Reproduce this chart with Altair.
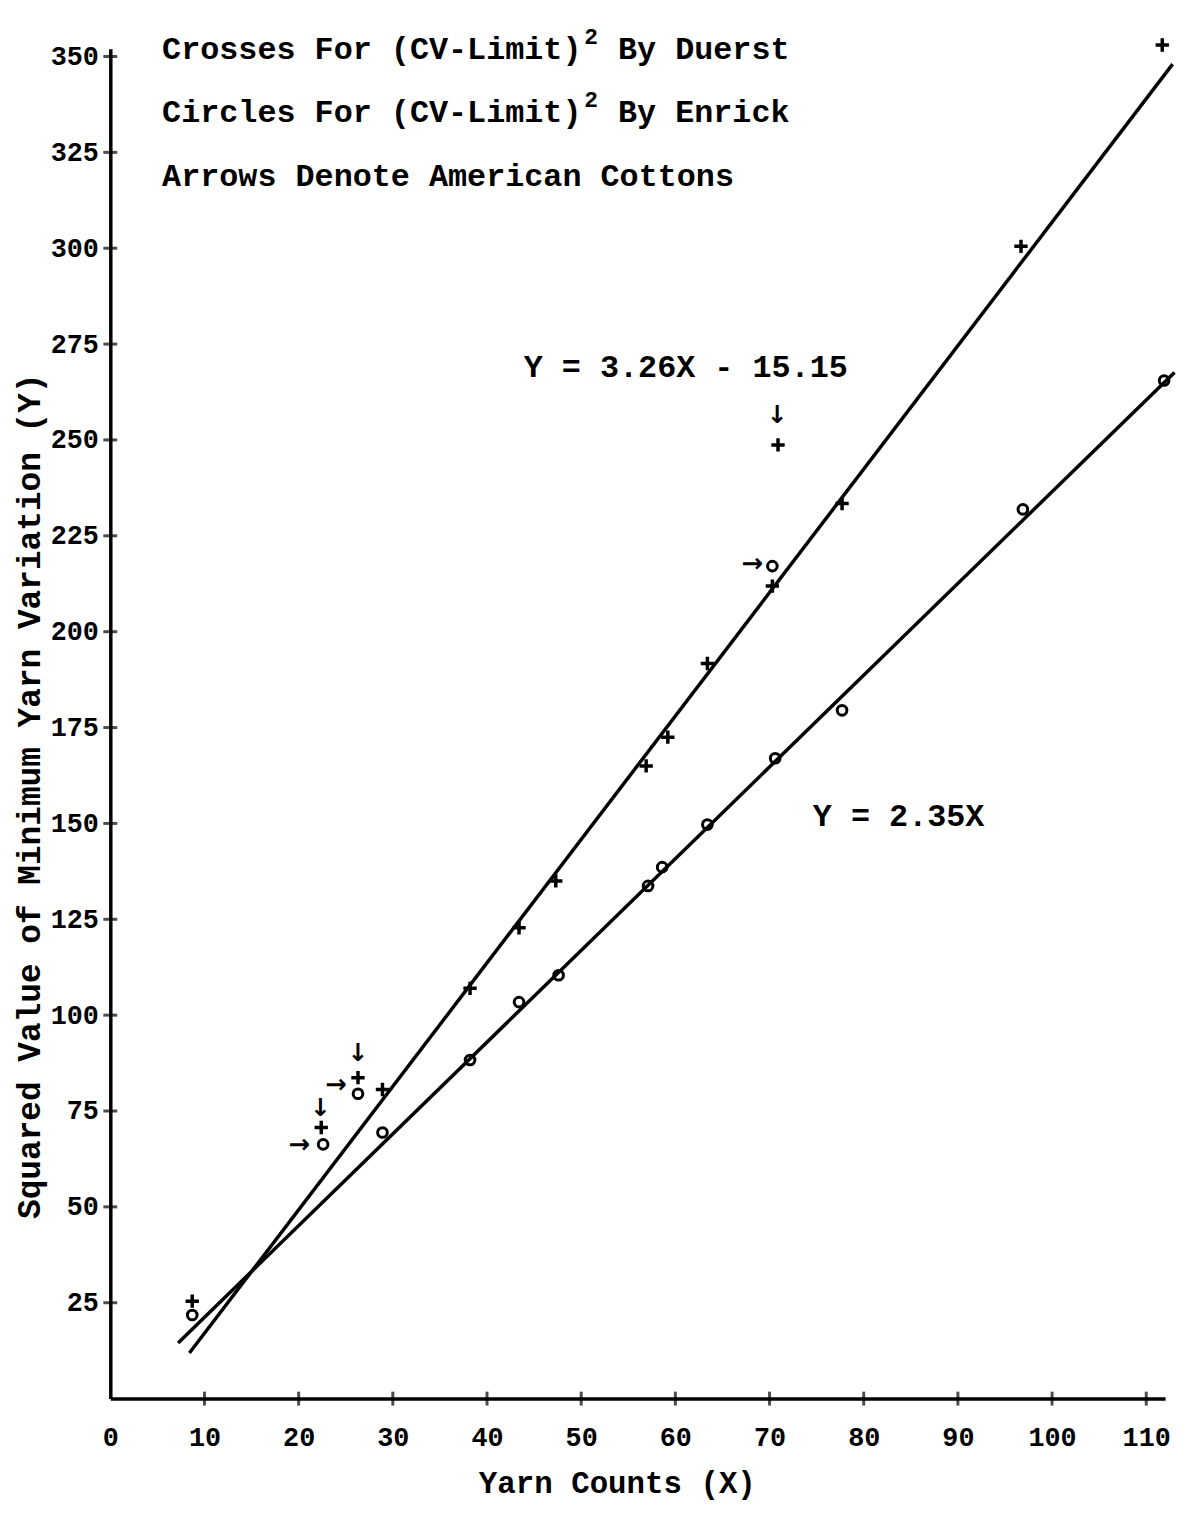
import altair as alt
import pandas as pd

# ---- data ----
cross_x = [8.7, 22.4, 26.3, 28.9, 38.2, 43.4, 47.3, 56.9, 59.2, 63.4, 70.3, 70.9, 77.7, 96.7, 111.7]
cross_y = [25.4, 70.7, 83.7, 80.6, 107.0, 122.8, 135.0, 165.0, 172.5, 191.7, 211.9, 248.7, 233.4, 300.5, 353.0]

circle_x = [8.7, 22.6, 26.3, 28.9, 38.2, 43.4, 47.6, 57.1, 58.6, 63.4, 70.3, 70.6, 77.7, 96.9, 111.9]
circle_y = [21.8, 66.3, 79.5, 69.4, 88.3, 103.4, 110.4, 133.7, 138.6, 149.7, 217.1, 167.0, 179.5, 231.9, 265.5]

# fitted lines (end points)
duerst_line_x = [8.4, 112.8]
duerst_line_y = [11.9, 348.0]
enrick_line_x = [7.2, 113.0]
enrick_line_y = [14.5, 267.6]

# arrows marking American cottons
arrow_down_x = [22.3, 26.3, 70.8]
arrow_down_y = [75.8, 90.0, 256.5]
arrow_right_x = [20.1, 24.0, 68.2]
arrow_right_y = [66.1, 81.8, 217.6]

x_labels = [0, 10, 20, 30, 40, 50, 60, 70, 80, 90, 100, 110]
x_ticks = [10, 20, 30, 40, 50, 60, 70, 80, 90, 100, 110]
y_ticks = [25, 50, 75, 100, 125, 150, 175, 200, 225, 250, 275, 300, 325, 350]

legend_head = ["Crosses For (CV-Limit)", "Circles For (CV-Limit)",
               "Arrows Denote American Cottons"]
legend_tail = ["By Duerst", "By Enrick"]
legend_x = [5.5, 5.5, 5.5]
legend_y = [352.0, 335.5, 318.7]
sup_lines = ["2", "2"]

eq_text = ["Y = 3.26X - 15.15", "Y = 2.35X"]
eq_x = [43.9, 74.6]
eq_y = [268.9, 151.8]

FONT = "Liberation Mono"

crosses = pd.DataFrame({"x": cross_x, "y": cross_y})
circles = pd.DataFrame({"x": circle_x, "y": circle_y})
lines = pd.DataFrame({
    "x": duerst_line_x + enrick_line_x,
    "y": duerst_line_y + enrick_line_y,
    "line": ["Duerst"] * 2 + ["Enrick"] * 2,
})
adown = pd.DataFrame({"x": arrow_down_x, "y": arrow_down_y, "t": ["↓"] * 3})
aright = pd.DataFrame({"x": arrow_right_x, "y": arrow_right_y, "t": ["→"] * 3})
xt = pd.DataFrame({"v": x_ticks})
yt = pd.DataFrame({"v": y_ticks})
leg = pd.DataFrame({"x": legend_x, "y": legend_y, "t": legend_head})
tail = pd.DataFrame({"x": legend_x[:2], "y": legend_y[:2], "t": legend_tail})
sup = pd.DataFrame({"x": legend_x[:2], "y": legend_y[:2], "t": sup_lines})
eq = pd.DataFrame({"x": eq_x, "y": eq_y, "t": eq_text})

xscale = alt.Scale(domain=[0, 112], nice=False, zero=False)
yscale = alt.Scale(domain=[0, 352], nice=False, zero=False)

axis_common = dict(
    ticks=False, tickSize=0, grid=False,
    domainColor="black", domainWidth=3.5,
    labelFont=FONT, labelFontSize=27, labelFontWeight="bold", labelColor="black",
    titleFont=FONT, titleFontWeight="bold", titleColor="black",
    titleAlign="center", titleBaseline="middle",
    labelOverlap=False, labelFlush=False,
)

X = alt.X("x:Q", scale=xscale,
          axis=alt.Axis(values=x_labels, title="Yarn Counts (X)", labelPadding=26,
                        titleFontSize=31, titleX=510, titleY=86, **axis_common))
Y = alt.Y("y:Q", scale=yscale,
          axis=alt.Axis(values=y_ticks, title="Squared Value of Minimum Yarn Variation (Y)",
                        labelPadding=12, titleFontSize=33, titleX=-81, titleY=752,
                        titleAngle=270, **axis_common))

line_layer = alt.Chart(lines).mark_line(color="black", strokeWidth=3.5).encode(
    x=X, y=Y, detail="line:N")

cross_layer = alt.Chart(crosses).mark_point(
    shape="M-1,0H1M0,-1V1", size=180, filled=False, color="black", strokeWidth=3.5, opacity=1
).encode(x="x:Q", y="y:Q")

circle_layer = alt.Chart(circles).mark_point(
    shape="circle", size=95, filled=False, color="black", strokeWidth=3, opacity=1
).encode(x="x:Q", y="y:Q")

xtick_layer = alt.Chart(xt).mark_tick(orient="vertical", size=14, thickness=3, color="black").encode(
    x="v:Q", y=alt.datum(0))
ytick_layer = alt.Chart(yt).mark_tick(orient="horizontal", size=14, thickness=3, color="black").encode(
    y="v:Q", x=alt.datum(0))

down_layer = alt.Chart(adown).mark_text(font="DejaVu Sans", fontSize=25, fontWeight="bold",
                                        color="black").encode(x="x:Q", y="y:Q", text="t:N")
right_layer = alt.Chart(aright).mark_text(font="DejaVu Sans", fontSize=26, fontWeight="bold",
                                          color="black").encode(x="x:Q", y="y:Q", text="t:N")

leg_layer = alt.Chart(leg).mark_text(font=FONT, fontSize=32, fontWeight="bold", align="left",
                                     baseline="middle", color="black").encode(
    x="x:Q", y="y:Q", text="t:N")
tail_layer = alt.Chart(tail).mark_text(font=FONT, fontSize=32, fontWeight="bold", align="left",
                                       baseline="middle", color="black", dx=459).encode(
    x="x:Q", y="y:Q", text="t:N")
sup_layer = alt.Chart(sup).mark_text(font=FONT, fontSize=23, fontWeight="bold", align="left",
                                     baseline="middle", color="black", dx=425, dy=-12).encode(
    x="x:Q", y="y:Q", text="t:N")
eq_layer = alt.Chart(eq).mark_text(font=FONT, fontSize=32, fontWeight="bold", align="left",
                                   baseline="middle", color="black").encode(
    x="x:Q", y="y:Q", text="t:N")

chart = alt.layer(
    line_layer, xtick_layer, ytick_layer, cross_layer, circle_layer,
    down_layer, right_layer, leg_layer, tail_layer, sup_layer, eq_layer
).properties(
    width=1062, height=1359,
    autosize=alt.AutoSizeParams(type="none"),
    padding={"left": 103, "top": 36, "right": 13, "bottom": 100},
    background="white",
).configure_view(stroke=None)

chart.save("out.html", embed_options={"renderer": "svg", "actions": False})
